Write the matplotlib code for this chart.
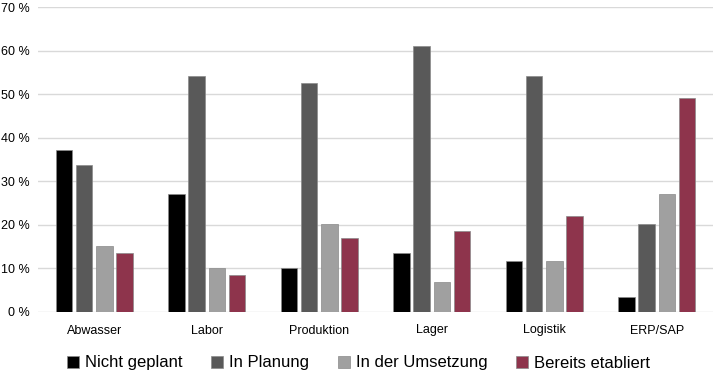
import numpy as np
import matplotlib.pyplot as plt
from matplotlib.patches import Patch
from matplotlib.ticker import FuncFormatter

plt.rcParams['font.family'] = ['Liberation Sans', 'DejaVu Sans']

categories = ['Abwasser', 'Labor', 'Produktion', 'Lager', 'Logistik', 'ERP/SAP']
series_names = ['Nicht geplant', 'In Planung', 'In der Umsetzung', 'Bereits etabliert']
nicht_geplant = [37.2, 27.1, 10.1, 13.5, 11.8, 3.4]
in_planung = [33.8, 54.2, 52.5, 61.0, 54.2, 20.3]
in_umsetzung = [15.2, 10.1, 20.3, 6.8, 11.8, 27.1]
bereits_etabliert = [13.5, 8.5, 17.0, 18.6, 22.0, 49.2]
colors = ['#000000', '#595959', '#a0a0a0', '#8e344c']

series = [nicht_geplant, in_planung, in_umsetzung, bereits_etabliert]

fig = plt.figure(figsize=(7.15, 3.74), dpi=100)
ax = fig.add_axes([38/715, 1 - 312/374, 675/715, 305/374])

x = np.arange(len(categories))
width = 0.145
pitch = 0.18
for i, (vals, col) in enumerate(zip(series, colors)):
    ax.bar(x + (i - 1.5) * pitch, vals, width, color=col, edgecolor='#8a8a8a',
           linewidth=0.5, label=series_names[i], zorder=3)

ax.set_xlim(-0.5, len(categories) - 0.5)
ax.set_ylim(0, 70)
ax.set_yticks(np.arange(0, 71, 10))
ax.yaxis.set_major_formatter(FuncFormatter(lambda v, p: f'{v:.0f} %'))
ax.set_xticks(x)
ax.set_xticklabels(categories)
ax.tick_params(axis='both', length=0, labelsize=9, colors='#000000')
ax.tick_params(axis='x', pad=9)
ax.tick_params(axis='y', pad=6)
ax.grid(axis='y', color='#d9d9d9', linewidth=1.0, zorder=0)
for s in ax.spines.values():
    s.set_visible(False)

handles = [Patch(facecolor=c, edgecolor='#8a8a8a', linewidth=0.5) for c in colors]
fig.legend(handles, series_names, loc='center', bbox_to_anchor=(0.5015, 1 - 363/374),
           ncol=4, frameon=False, fontsize=12, handlelength=0.7, handleheight=0.7,
           handletextpad=0.35, columnspacing=1.75)

fig.savefig('out.png', dpi=100)
